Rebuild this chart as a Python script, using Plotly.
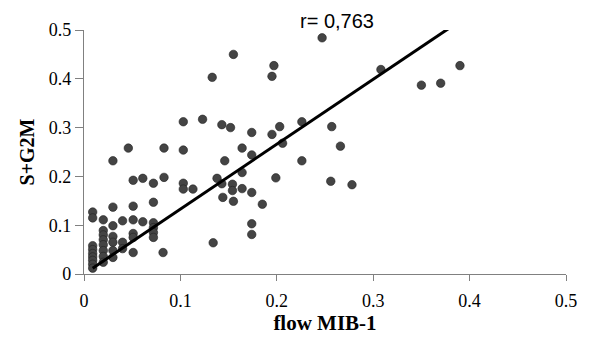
import plotly.graph_objects as go

# MIB-1 (flow) vs S+G2M fraction
mib1 = [
    0.009, 0.009, 0.009, 0.009, 0.009, 0.009, 0.009, 0.009, 0.009,
    0.020, 0.020, 0.020, 0.020, 0.020, 0.020, 0.020, 0.020,
    0.030, 0.030, 0.030, 0.030, 0.030, 0.030, 0.030,
    0.040, 0.040, 0.040,
    0.046,
    0.051, 0.051, 0.051, 0.051, 0.051, 0.051,
    0.061, 0.061,
    0.072, 0.072, 0.072, 0.072, 0.072, 0.072,
    0.083, 0.083, 0.082,
    0.103, 0.103, 0.103, 0.103,
    0.113, 0.123,
    0.133, 0.134,
    0.143, 0.138, 0.143, 0.144, 0.146,
    0.155, 0.152, 0.154, 0.154, 0.155,
    0.164, 0.164, 0.164,
    0.174, 0.174, 0.174, 0.174, 0.174,
    0.185,
    0.197, 0.195, 0.195,
    0.203, 0.206, 0.199,
    0.226, 0.226,
    0.247,
    0.257, 0.256,
    0.266,
    0.278,
    0.308, 0.350, 0.370, 0.390,
]
sg2m = [
    0.127, 0.115, 0.058, 0.050, 0.042, 0.035, 0.028, 0.020, 0.012,
    0.111, 0.089, 0.080, 0.070, 0.060, 0.048, 0.036, 0.024,
    0.232, 0.137, 0.099, 0.077, 0.065, 0.048, 0.034,
    0.109, 0.065, 0.052,
    0.258,
    0.192, 0.139, 0.111, 0.083, 0.075, 0.044,
    0.196, 0.107,
    0.186, 0.147, 0.105, 0.095, 0.085, 0.075,
    0.258, 0.198, 0.044,
    0.312, 0.254, 0.186, 0.174,
    0.174, 0.317,
    0.403, 0.064,
    0.306, 0.196, 0.185, 0.157, 0.232,
    0.450, 0.300, 0.184, 0.171, 0.149,
    0.258, 0.208, 0.175,
    0.290, 0.244, 0.167, 0.103, 0.081,
    0.143,
    0.427, 0.405, 0.286,
    0.302, 0.268, 0.197,
    0.312, 0.232,
    0.484,
    0.302, 0.190,
    0.262,
    0.183,
    0.419, 0.387, 0.391, 0.427,
]

# regression line end points (as drawn)
trend_x = [0.009, 0.379]
trend_y = [0.012, 0.504]

annotation_text = "r= 0,763"
x_ticks = [0, 0.1, 0.2, 0.3, 0.4, 0.5]
y_ticks = [0, 0.1, 0.2, 0.3, 0.4, 0.5]
x_title = "flow MIB-1"
y_title = "S+G2M"

fig = go.Figure()
fig.add_trace(go.Scatter(
    x=mib1, y=sg2m, mode="markers",
    marker=dict(size=8.5, color="#444444", line=dict(color="#222222", width=0.6)),
    showlegend=False, hoverinfo="x+y",
))
fig.add_trace(go.Scatter(
    x=trend_x, y=trend_y, mode="lines",
    line=dict(color="black", width=3),
    showlegend=False, hoverinfo="skip",
))

axis_font = dict(family="Liberation Serif, Times New Roman, serif", size=18, color="black")
title_font = dict(family="Liberation Serif, Times New Roman, serif", size=20, color="black")

fig.update_layout(
    width=596, height=339,
    margin=dict(l=76, r=38, t=17, b=73),
    paper_bgcolor="white", plot_bgcolor="white",
    xaxis=dict(
        range=[0, 0.5], tickvals=x_ticks, ticktext=[f"{v:g}" for v in x_ticks],
        showgrid=False, zeroline=False, showline=True, linecolor="#808080", linewidth=1.2,
        ticks="outside", ticklen=6, tickcolor="#808080", tickwidth=1.2,
        tickfont=axis_font, ticklabelstandoff=4,
        title=dict(text=f"<b>{x_title}</b>", font=dict(title_font, size=21), standoff=4),
    ),
    yaxis=dict(
        range=[0, 0.5], tickvals=y_ticks, ticktext=[f"{v:g}" for v in y_ticks],
        showgrid=False, zeroline=False, showline=True, linecolor="#808080", linewidth=1.2,
        ticks="outside", ticklen=8, tickcolor="#808080", tickwidth=1.2,
        tickfont=axis_font,
        title=dict(text=f"<b>{y_title}</b>", font=title_font, standoff=8),
    ),
    annotations=[dict(
        x=0.262, y=1.038, xref="x", yref="paper", text=annotation_text,
        showarrow=False, xanchor="center", yanchor="middle",
        font=dict(family="Liberation Sans, Arial, sans-serif", size=20, color="black"),
    )],
)

fig.write_html("out.html")
